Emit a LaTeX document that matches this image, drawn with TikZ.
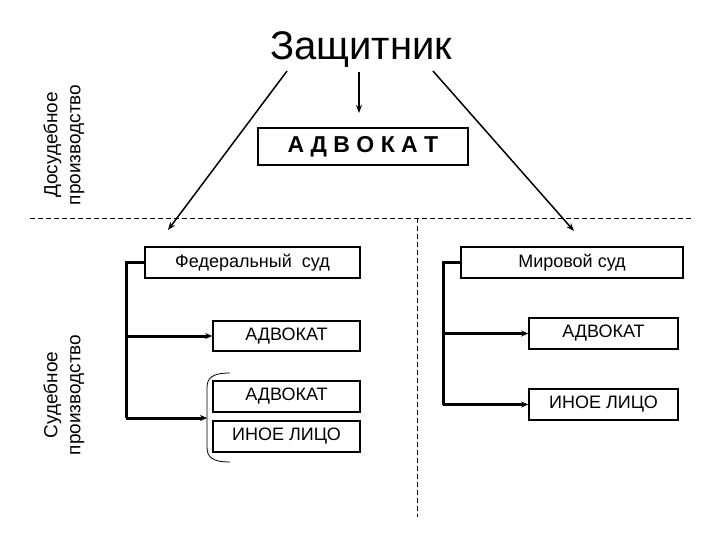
\documentclass[tikz,border=0pt]{standalone}
\usepackage{fontspec}
\setmainfont{Liberation Sans}
\usetikzlibrary{arrows.meta}
\begin{document}
\begin{tikzpicture}[x=1pt,y=-1pt,
  box/.style={draw,line width=1.6pt,inner sep=0pt,anchor=center,font=\fontsize{18}{22}\selectfont},
  bracket/.style={line width=3pt},
  arr/.style={line width=3pt,-{Stealth[length=7pt,width=6pt]}},
  diag/.style={line width=1.5pt,-{Stealth[length=8pt,width=6pt]}},
  sep/.style={line width=0.8pt,dash pattern=on 5pt off 3pt},
  side/.style={rotate=90,align=center,font=\fontsize{19}{23}\selectfont}]
\useasboundingbox (0,0) rectangle (720,540);
\fill[white] (0,0) rectangle (720,540);
% title
\node[anchor=base,font=\fontsize{40}{44}\selectfont] (title) at (361,60) {Защитник};
\node[box,minimum width=210pt,minimum height=37pt,font=\fontsize{23}{27}\selectfont\bfseries] (adv) at (363,146.5) {А Д В О К А Т};
% separators
\coordinate (hl) at (30,218);
\coordinate (hr) at (694,218);
\coordinate (vt) at (417,218);
\coordinate (vb) at (417,517);
\draw[sep] (hl) -- (hr);
\draw[sep] (vt) -- (vb);
% side labels
\node[side] (pre) at (64,145) {Досудебное\\производство};
\node[side] (jud) at (64,395) {Судебное\\производство};
% arrows from title
\coordinate (ls) at (287,71);
\coordinate (le) at (168,230);
\coordinate (rs) at (433,71);
\coordinate (re) at (574,231);
\coordinate (vs) at (359,72);
\coordinate (ve) at (359,113);
\draw[diag] (ls) -- (le);
\draw[diag] (rs) -- (re);
\draw[diag] (vs) -- (ve);
% boxes
\node[box,minimum width=215pt,minimum height=31pt] (fed) at (252.5,262.5) {Федеральный\ \ суд};
\node[box,minimum width=222pt,minimum height=31pt] (mir) at (572,262.5) {Мировой суд};
\node[box,minimum width=147pt,minimum height=30pt] (la1) at (286.5,336) {АДВОКАТ};
\node[box,minimum width=147pt,minimum height=31pt] (la2) at (286.5,396.5) {АДВОКАТ};
\node[box,minimum width=147pt,minimum height=31pt] (li) at (286.5,436.5) {ИНОЕ ЛИЦО};
\node[box,minimum width=149pt,minimum height=31pt] (ra1) at (603.5,333.5) {АДВОКАТ};
\node[box,minimum width=149pt,minimum height=31pt] (ri) at (603.5,404.5) {ИНОЕ ЛИЦО};
% left tree
\coordinate (lt) at (126,262.5);
\coordinate (lm) at (126,336);
\coordinate (lb) at (126,418);
\coordinate (lbe) at (207,418);
\draw[bracket] (fed.west) -- (lt) -- (lb);
\draw[arr] (lm) -- (la1.west);
\draw[arr] (lb) -- (lbe);
% brace
\coordinate (b1) at (230,373);
\coordinate (b2) at (207,388);
\coordinate (b3) at (207,447);
\coordinate (b4) at (230,462);
\draw[line width=0.8pt] (b1) .. controls (212,373) and (207,378) .. (b2) -- (b3) .. controls (207,457) and (212,462) .. (b4);
% right tree
\coordinate (rt) at (443,262.5);
\coordinate (rm) at (443,333.5);
\coordinate (rb) at (443,404.5);
\draw[bracket] (mir.west) -- (rt) -- (rb);
\draw[arr] (rm) -- (ra1.west);
\draw[arr] (rb) -- (ri.west);
\end{tikzpicture}
\end{document}
